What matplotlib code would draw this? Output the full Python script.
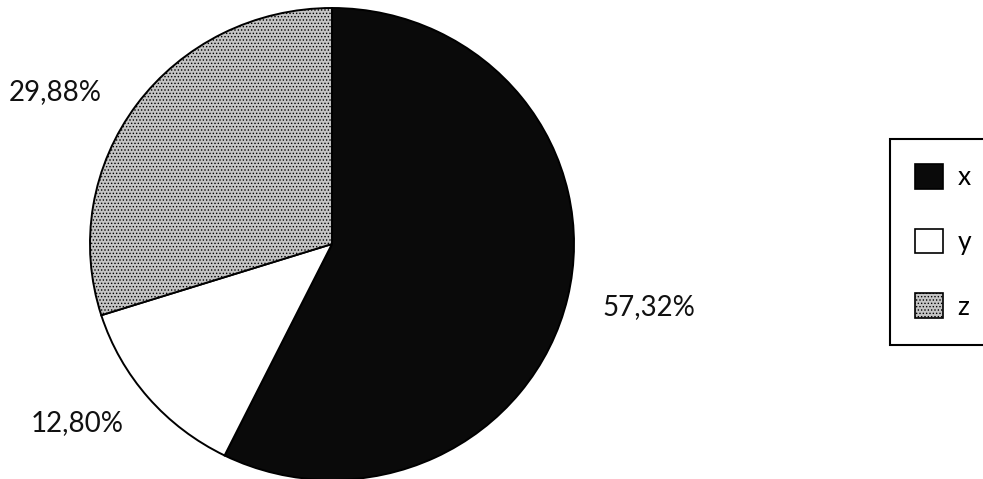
import matplotlib
matplotlib.use("Agg")
import matplotlib.pyplot as plt
import matplotlib.patches as mpatches

labels = ["x", "y", "z"]
values = [57.32, 12.80, 29.88]
pct_text = ["57,32%", "12,80%", "29,88%"]

plt.rcParams['font.family'] = ['Lato', 'DejaVu Sans']
plt.rcParams['hatch.linewidth'] = 0.6

W, H = 983, 479
fig = plt.figure(figsize=(W / 100, H / 100), dpi=100)
ax = fig.add_axes([0, 0, 1, 1])

# pie centre and radii in pixels (scan is slightly wider than tall)
cx, cy, rx, ry = 332, 244, 242, 236

face = ['#0a0a0a', 'white', '#c4c4c4']
hatches = [None, None, '.....']
wedges, _ = ax.pie(values, startangle=90, counterclock=False, colors=face,
                   wedgeprops=dict(edgecolor='black', linewidth=1.4))
for w, h in zip(wedges, hatches):
    if h:
        w.set_hatch(h)

ax.set_xlim((0 - cx) / rx, (W - cx) / rx)
ax.set_ylim((cy - H) / ry, cy / ry)
ax.set_aspect('auto')
ax.axis('off')

# label positions (pixels)
lab_pos = [(649, 307), (77, 423), (55, 92)]
for t, (px, py) in zip(pct_text, lab_pos):
    ax.text((px - cx) / rx, (cy - py) / ry, t, ha='center', va='center',
            fontsize=20, color='#111111')

handles = [mpatches.Patch(facecolor=f, edgecolor='black', hatch=h, linewidth=1.2)
           for f, h in zip(face, hatches)]
leg = fig.legend(handles, labels, loc='upper left',
                 bbox_to_anchor=(890 / W, 1 - 139 / H), fontsize=19,
                 handlelength=1.06, handleheight=1.06, labelspacing=1.45,
                 handletextpad=0.55, borderpad=0.95, borderaxespad=0,
                 fancybox=False, edgecolor='black', framealpha=1)
leg.get_frame().set_linewidth(1.5)

fig.savefig('out.png', dpi=100)
